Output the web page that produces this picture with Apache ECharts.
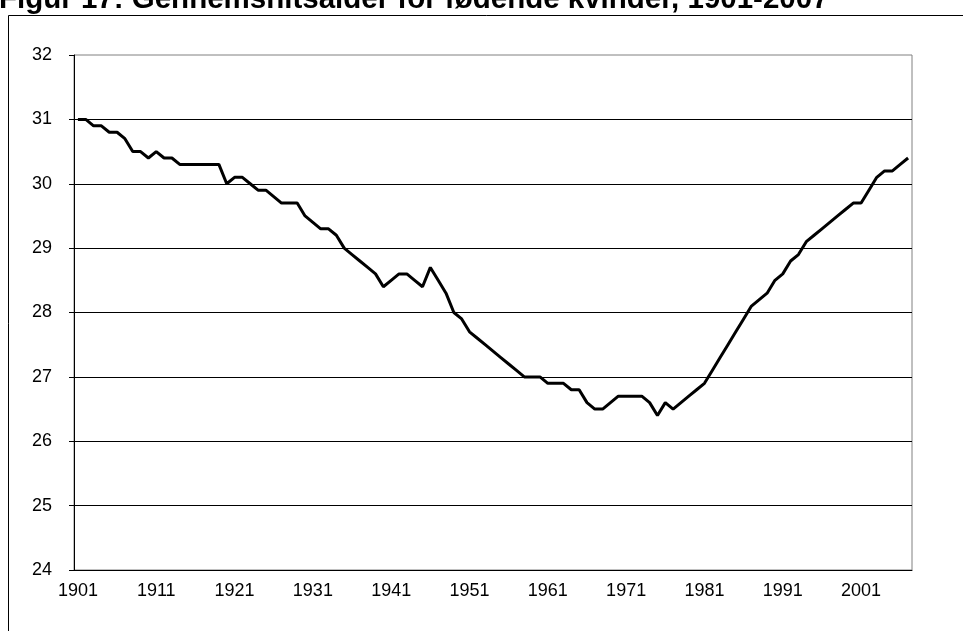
<!DOCTYPE html>
<html>
<head>
<meta charset="utf-8">
<script src="https://cdn.jsdelivr.net/npm/echarts@6/dist/echarts.min.js"></script>
<style>
  html, body { margin: 0; padding: 0; background: #fff; }
  #chart { width: 963px; height: 631px; }
</style>
</head>
<body>
<div id="chart"></div>
<script>
// years 1901-2007
var years = [];
for (var y = 1901; y <= 2007; y++) years.push(String(y));

// average age of women giving birth
var avgAge = [
  31.0, 31.0, 30.9, 30.9, 30.8, 30.8, 30.7, 30.5, 30.5, 30.4,
  30.5, 30.4, 30.4, 30.3, 30.3, 30.3, 30.3, 30.3, 30.3, 30.0,
  30.1, 30.1, 30.0, 29.9, 29.9, 29.8, 29.7, 29.7, 29.7, 29.5,
  29.4, 29.3, 29.3, 29.2, 29.0, 28.9, 28.8, 28.7, 28.6, 28.4,
  28.5, 28.6, 28.6, 28.5, 28.4, 28.7, 28.5, 28.3, 28.0, 27.9,
  27.7, 27.6, 27.5, 27.4, 27.3, 27.2, 27.1, 27.0, 27.0, 27.0,
  26.9, 26.9, 26.9, 26.8, 26.8, 26.6, 26.5, 26.5, 26.6, 26.7,
  26.7, 26.7, 26.7, 26.6, 26.4, 26.6, 26.5, 26.6, 26.7, 26.8,
  26.9, 27.1, 27.3, 27.5, 27.7, 27.9, 28.1, 28.2, 28.3, 28.5,
  28.6, 28.8, 28.9, 29.1, 29.2, 29.3, 29.4, 29.5, 29.6, 29.7,
  29.7, 29.9, 30.1, 30.2, 30.2, 30.3, 30.4
];

var titleText = 'Figur 17: Gennemsnitsalder for fødende kvinder, 1901-2007';
var fontFam = '"Liberation Sans", Arial, sans-serif';

var chart = echarts.init(document.getElementById('chart'));

var option = {
  animation: false,
  backgroundColor: '#fff',
  graphic: [
    {
      type: 'rect',
      shape: { x: 8.5, y: 15.5, width: 1000, height: 700 },
      style: { fill: 'none', stroke: '#000', lineWidth: 1 },
      silent: true
    },
    {
      type: 'text',
      x: -1,
      y: 15,
      style: {
        text: titleText,
        font: 'bold 29.5px ' + fontFam,
        fill: '#000',
        verticalAlign: 'bottom'
      }
    }
  ],
  grid: {
    left: 74,
    right: 51,
    top: 55,
    bottom: 61,
    show: true,
    borderColor: '#808080',
    borderWidth: 1,
    containLabel: false
  },
  xAxis: {
    type: 'category',
    data: years,
    boundaryGap: true,
    axisLine: { lineStyle: { color: '#000', width: 1 } },
    axisTick: { interval: 4, length: 5, lineStyle: { color: '#000' } },
    axisLabel: {
      interval: 9,
      margin: 12,
      color: '#000',
      fontSize: 18,
      fontFamily: fontFam
    },
    splitLine: { show: false }
  },
  yAxis: {
    type: 'value',
    min: 24,
    max: 32,
    interval: 1,
    axisLine: { show: true, lineStyle: { color: '#000', width: 1 } },
    axisTick: { show: true, length: 5, lineStyle: { color: '#000' } },
    axisLabel: {
      margin: 22,
      color: '#000',
      fontSize: 18,
      fontFamily: fontFam
    },
    splitLine: {
      show: true,
      showMaxLine: false,
      lineStyle: { color: '#000', width: 1 }
    }
  },
  series: [
    {
      type: 'line',
      data: avgAge,
      symbol: 'none',
      lineStyle: { color: '#000', width: 3 },
      silent: true
    }
  ]
};

chart.setOption(option);
</script>
</body>
</html>
